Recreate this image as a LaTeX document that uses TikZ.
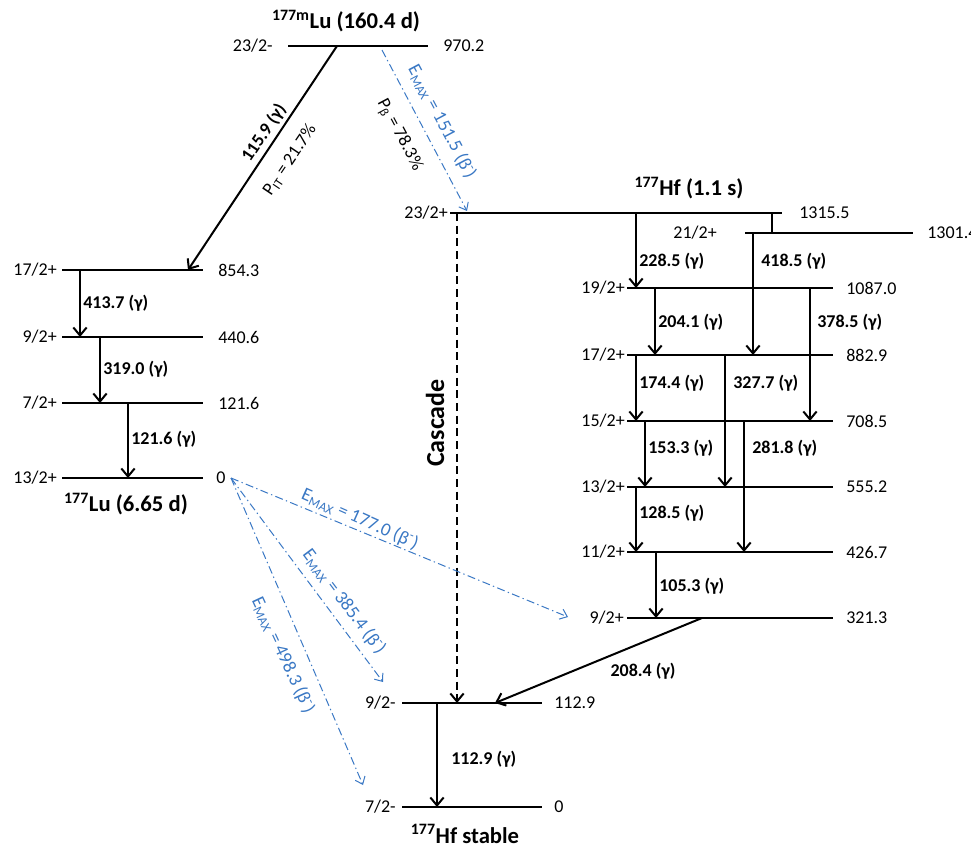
\documentclass[tikz,border=0pt]{standalone}
\usepackage{fontspec}
\setmainfont{Carlito}
\usetikzlibrary{arrows.meta}
\definecolor{betablue}{RGB}{58,120,196}

% level: name, x start, x end, y  (left end is the named coordinate, right end is <name>e)
\newcommand\lvl[4]{\coordinate (#1) at (#2,#4); \coordinate (#1e) at (#3,#4); \draw[lvline] (#1) -- (#1e);}

\begin{document}
\begin{tikzpicture}[x=0.75pt,y=-0.75pt,
  lvline/.style={line width=1pt},
  gam/.style={line width=1.5pt,-{Straight Barb[length=6pt,width=10pt,line width=1.5pt]}},
  casc/.style={line width=1.5pt,dash pattern=on 6pt off 3.5pt,-{Straight Barb[length=6pt,width=10pt,line width=1.5pt]}},
  beta/.style={draw=betablue,line width=0.75pt,dash pattern=on 6pt off 2.5pt on 1pt off 2.5pt,-{Straight Barb[length=5pt,width=8pt,line width=0.75pt]}},
  txt/.style={font=\fontsize{13.5}{16}\selectfont,inner sep=0pt},
  spin/.style={txt,anchor=east},
  energy/.style={txt,anchor=west},
  glabel/.style={font=\fontsize{13.5}{16}\selectfont\bfseries,inner sep=0pt,anchor=west},
  blabel/.style={font=\fontsize{14}{16}\selectfont,text=betablue,inner sep=0pt},
  title/.style={font=\fontsize{17}{20}\selectfont\bfseries,inner sep=0pt}]

\useasboundingbox (0,0) rectangle (971,845);

% ---------- 177mLu ----------
\node[title] (tLm) at (346,21) {\textsuperscript{177m}Lu (160.4 d)};
\lvl{Lm}{288}{428}{46}
\node[spin] (sLm) at (273,46) {23/2-};
\node[energy] (eLm) at (443,46) {970.2};

% ---------- 177Lu ----------
\lvl{L17}{62}{203}{270}
\lvl{L9}{62}{203}{337}
\lvl{L7}{62}{203}{403}
\lvl{L13}{62}{203}{478}
\node[spin] (sL17) at (57,270) {17/2+};
\node[spin] (sL9) at (57,337) {9/2+};
\node[spin] (sL7) at (57,403) {7/2+};
\node[spin] (sL13) at (57,478) {13/2+};
\node[energy] (eL17) at (218,270) {854.3};
\node[energy] (eL9) at (218,337) {440.6};
\node[energy] (eL7) at (218,403) {121.6};
\node[energy] (eL13) at (216,478) {0};
\node[title] (tL) at (126,504) {\textsuperscript{177}Lu (6.65 d)};

% isomeric transition
\draw[gam] (337,0 |- Lm) -- (188,0 |- L17);
\node[font=\fontsize{13.5}{16}\selectfont\bfseries,inner sep=0pt,rotate=56] (gIT) at (264,133) {115.9 (γ)};
\node[txt,rotate=56] (pIT) at (290,160) {P\textsubscript{IT} = 21.7\%};

% gamma cascade in 177Lu
\draw[gam] (80,0 |- L17) -- (80,0 |- L9);
\node[glabel] (g4137) at (83,303) {413.7 (γ)};
\draw[gam] (100,0 |- L9) -- (100,0 |- L7);
\node[glabel] (g3190) at (103,369) {319.0 (γ)};
\draw[gam] (128,0 |- L7) -- (128,0 |- L13);
\node[glabel] (g1216) at (131,439) {121.6 (γ)};

% ---------- 177Hf (1.1 s) ----------
\node[title] (tH) at (689,188) {\textsuperscript{177}Hf (1.1 s)};
\lvl{H23}{450}{782}{213}
\lvl{H21}{745}{913}{233}
\lvl{H19}{627}{833}{288}
\lvl{H17}{627}{833}{355}
\lvl{H15}{627}{833}{421}
\lvl{H13}{627}{833}{487}
\lvl{H11}{627}{833}{552}
\lvl{H9}{627}{833}{618}
\draw[lvline] (772,0 |- H23) -- (772,0 |- H21);

\node[spin] (sH23) at (448,213) {23/2+};
\node[spin] (sH21) at (717,233) {21/2+};
\node[spin] (sH19) at (625,288) {19/2+};
\node[spin] (sH17) at (625,355) {17/2+};
\node[spin] (sH15) at (625,421) {15/2+};
\node[spin] (sH13) at (625,487) {13/2+};
\node[spin] (sH11) at (625,552) {11/2+};
\node[spin] (sH9) at (624,618) {9/2+};
\node[energy] (eH23) at (799,213) {1315.5};
\node[energy] (eH21) at (927,233) {1301.4};
\node[energy] (eH19) at (846,288) {1087.0};
\node[energy] (eH17) at (846,355) {882.9};
\node[energy] (eH15) at (846,421) {708.5};
\node[energy] (eH13) at (846,487) {555.2};
\node[energy] (eH11) at (846,552) {426.7};
\node[energy] (eH9) at (846,618) {321.3};

\draw[gam] (636,0 |- H23) -- (636,0 |- H19);
\node[glabel] (g2285) at (639,261) {228.5 (γ)};
\draw[gam] (753,0 |- H21) -- (753,0 |- H17);
\node[glabel] (g4185) at (761,261) {418.5 (γ)};
\draw[gam] (655,0 |- H19) -- (655,0 |- H17);
\node[glabel] (g2041) at (658,322) {204.1 (γ)};
\draw[gam] (810,0 |- H19) -- (810,0 |- H15);
\node[glabel] (g3785) at (817,322) {378.5 (γ)};
\draw[gam] (636,0 |- H17) -- (636,0 |- H15);
\node[glabel] (g1744) at (639,383) {174.4 (γ)};
\draw[gam] (725,0 |- H17) -- (725,0 |- H13);
\node[glabel] (g3277) at (733,383) {327.7 (γ)};
\draw[gam] (645,0 |- H15) -- (645,0 |- H13);
\node[glabel] (g1533) at (648,448) {153.3 (γ)};
\draw[gam] (744,0 |- H15) -- (744,0 |- H11);
\node[glabel] (g2818) at (752,448) {281.8 (γ)};
\draw[gam] (636,0 |- H13) -- (636,0 |- H11);
\node[glabel] (g1285) at (639,513) {128.5 (γ)};
\draw[gam] (656,0 |- H11) -- (656,0 |- H9);
\node[glabel] (g1053) at (659,586) {105.3 (γ)};

% ---------- 177Hf stable ----------
\lvl{G9}{402}{542}{703}
\lvl{G7}{402}{542}{807}
\node[spin] (sG9) at (396,703) {9/2-};
\node[spin] (sG7) at (396,807) {7/2-};
\node[energy] (eG9) at (554,703) {112.9};
\node[energy] (eG7) at (554,807) {0};
\node[title] (tG) at (465,834) {\textsuperscript{177}Hf stable};

\draw[gam] (702,0 |- H9) -- (495,0 |- G9);
\node[font=\fontsize{13.5}{16}\selectfont\bfseries,inner sep=0pt] (g2084) at (643,671) {208.4 (γ)};
\draw[gam] (437,0 |- G9) -- (437,0 |- G7);
\node[glabel] (g1129) at (451,759) {112.9 (γ)};

% cascade
\draw[casc] (457,0 |- H23) -- (457,0 |- G9);
\node[title,font=\fontsize{19.5}{22}\selectfont\bfseries,rotate=90] (cas) at (435,423) {Cascade};

% ---------- beta branches ----------
\draw[beta] (382,50) -- (467,211);
\node[blabel,rotate=-62] (b1515) at (442,122) {E\textsubscript{MAX} = 151.5 (β\textsuperscript{-})};
\node[txt,rotate=-62] (pB) at (399,135) {P\textsubscript{β} = 78.3\%};

\coordinate (lu0) at (231,478);
\draw[beta] (lu0) -- (568,617);
\draw[beta] (lu0) -- (383,682);
\draw[beta] (lu0) -- (363,785);
\node[blabel,rotate=-24] (b1770) at (360,519) {E\textsubscript{MAX} = 177.0 (β\textsuperscript{-})};
\node[blabel,rotate=-53] (b3854) at (344,602) {E\textsubscript{MAX} = 385.4 (β\textsuperscript{-})};
\node[blabel,rotate=-65] (b4983) at (283,655) {E\textsubscript{MAX} = 498.3 (β\textsuperscript{-})};

\end{tikzpicture}
\end{document}
